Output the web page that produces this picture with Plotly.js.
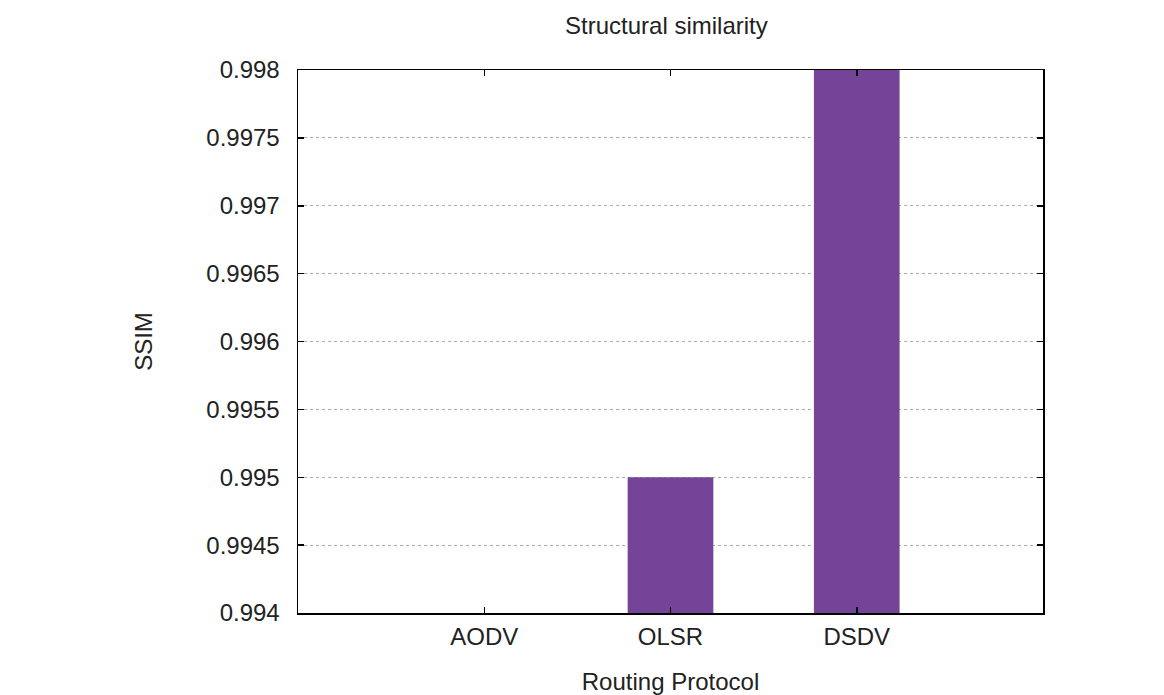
<!DOCTYPE html>
<html>
<head>
<meta charset="utf-8">
<script src="https://cdn.plot.ly/plotly-3.0.1.min.js"></script>
<style>html,body{margin:0;padding:0;background:#fff;}#chart{width:1164px;height:695px;}</style>
</head>
<body>
<div id="chart"></div>
<script>
const categories = ["AODV", "OLSR", "DSDV"];
const ssimValues = [0.994, 0.995, 0.998];
const yTickValues = [0.994, 0.9945, 0.995, 0.9955, 0.996, 0.9965, 0.997, 0.9975, 0.998];
const yTickLabels = ["0.994", "0.9945", "0.995", "0.9955", "0.996", "0.9965", "0.997", "0.9975", "0.998"];

const FONT = "Liberation Sans, Arial, sans-serif";

const trace = {
  type: "bar",
  x: categories,
  y: ssimValues,
  width: 0.46,
  marker: {color: "rgb(116,68,153)", line: {width: 0}},
  hoverinfo: "x+y"
};

const layout = {
  width: 1164,
  height: 695,
  margin: {l: 298, r: 121, t: 70, b: 82},
  paper_bgcolor: "#fff",
  plot_bgcolor: "#fff",
  showlegend: false,
  font: {family: FONT, size: 24, color: "#222"},
  title: {text: "Structural similarity", font: {family: FONT, size: 24, color: "#222"}, x: 0.5725, xanchor: "center", y: 0.963, yanchor: "middle"},
  xaxis: {
    type: "category",
    range: [-1, 3],
    showline: true, linecolor: "#000", linewidth: 1.5, mirror: "allticks",
    ticks: "inside", ticklen: 6, tickcolor: "#000", tickwidth: 1.5,
    tickfont: {family: FONT, size: 24, color: "#222"},
    ticklabelstandoff: 2,
    showgrid: false, zeroline: false,
    title: {text: "Routing Protocol", font: {family: FONT, size: 24, color: "#222"}, standoff: 26}
  },
  yaxis: {
    range: [0.994, 0.998],
    tickvals: yTickValues,
    ticktext: yTickLabels,
    showline: true, linecolor: "#000", linewidth: 1.5, mirror: "allticks",
    ticks: "inside", ticklen: 6, tickcolor: "#000", tickwidth: 1.5,
    tickfont: {family: FONT, size: 24, color: "#222"},
    ticklabelstandoff: 12,
    showgrid: true, gridcolor: "#aaaaaa", gridwidth: 1, griddash: "dot",
    zeroline: false,
    title: {text: "SSIM", font: {family: FONT, size: 24, color: "#222"}, standoff: 47}
  },
  bargap: 0.54
};

Plotly.newPlot("chart", [trace], layout, {displayModeBar: false, staticPlot: true});
</script>
</body>
</html>
